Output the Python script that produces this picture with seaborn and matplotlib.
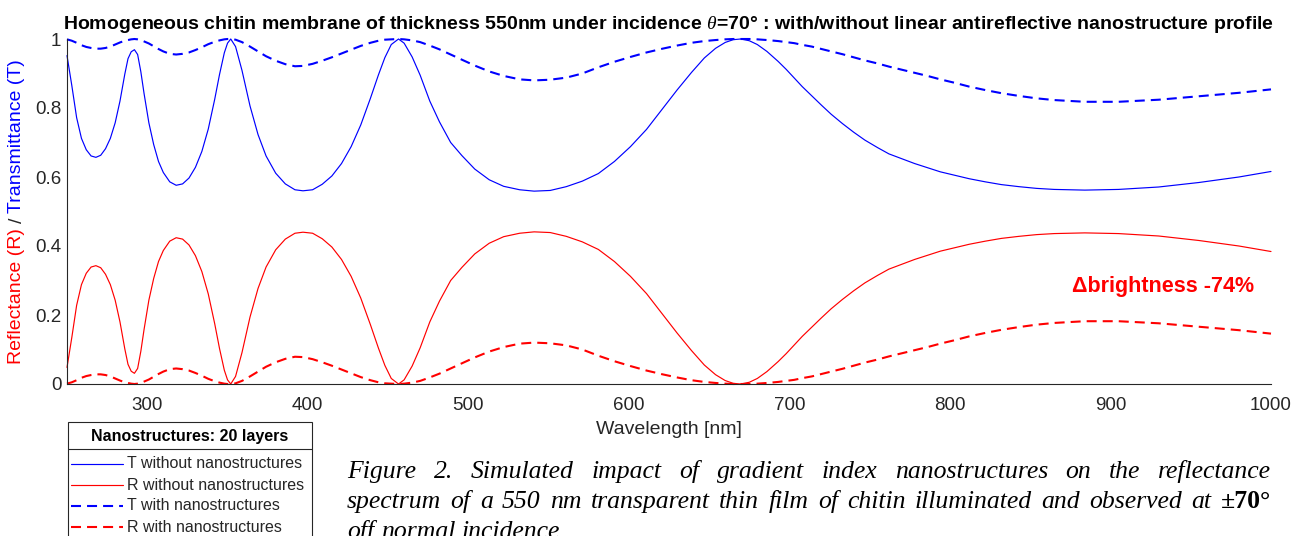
import matplotlib
matplotlib.use("Agg")
import matplotlib.pyplot as plt
from matplotlib.transforms import IdentityTransform
from matplotlib.lines import Line2D
from matplotlib.patches import Rectangle
import numpy as np
import pandas as pd
import seaborn as sns

# ---------------------------------------------------------------- data
wavelength = [
    250, 253, 256, 259, 262, 265, 268, 271, 274, 277, 280, 283, 286, 288, 290, 292,
    294, 296, 298, 301, 304, 307, 310, 314, 318, 322, 326, 330, 334, 338, 342, 345, 348, 350, 352,
    355, 359, 364, 369, 374, 380, 386, 392, 397, 403, 409, 415, 421, 427, 433, 439, 444, 448, 452, 456.5,
    460, 465, 470, 476, 482, 489, 496, 504, 513, 522, 532, 541, 551, 561, 571, 581, 591, 601, 611, 621,
    630, 639, 647, 654, 660, 665, 669.6,
    675, 680, 686, 693, 698, 703, 708, 714, 720, 726, 733, 740, 747, 755, 762, 770, 778, 786, 794, 803,
    812, 822, 832, 843, 854, 865, 884, 905, 930, 955, 980, 1000,
]

r_without = [
    0.048, 0.135, 0.228, 0.288, 0.321, 0.339, 0.343, 0.337, 0.318, 0.288, 0.243, 0.180, 0.102, 0.057, 0.037, 0.031,
    0.045, 0.095, 0.158, 0.243, 0.306, 0.355, 0.387, 0.414, 0.424, 0.420, 0.403, 0.372, 0.326, 0.261, 0.175, 0.103, 0.040, 0.012, 0.000,
    0.022, 0.091, 0.194, 0.277, 0.339, 0.389, 0.420, 0.437, 0.440, 0.437, 0.421, 0.397, 0.361, 0.312, 0.249, 0.172, 0.104, 0.054, 0.016, 0.000,
    0.012, 0.052, 0.105, 0.180, 0.240, 0.300, 0.338, 0.377, 0.408, 0.427, 0.437, 0.441, 0.439, 0.428, 0.412, 0.390, 0.355, 0.312, 0.262, 0.202,
    0.148, 0.097, 0.055, 0.027, 0.010, 0.002, 0.000,
    0.005, 0.016, 0.036, 0.065, 0.088, 0.113, 0.138, 0.165, 0.192, 0.218, 0.245, 0.270, 0.293, 0.315, 0.333, 0.347, 0.361, 0.373, 0.385, 0.395,
    0.405, 0.414, 0.422, 0.428, 0.433, 0.436, 0.438, 0.436, 0.429, 0.416, 0.400, 0.384,
]

t_without = [
    0.952, 0.865, 0.772, 0.712, 0.679, 0.661, 0.657, 0.663, 0.682, 0.712, 0.757, 0.820, 0.898, 0.943, 0.963, 0.969,
    0.955, 0.905, 0.842, 0.757, 0.694, 0.645, 0.613, 0.586, 0.576, 0.580, 0.597, 0.628, 0.674, 0.739, 0.825, 0.897, 0.960, 0.988, 1.000,
    0.978, 0.909, 0.806, 0.723, 0.661, 0.611, 0.580, 0.563, 0.560, 0.563, 0.579, 0.603, 0.639, 0.688, 0.751, 0.828, 0.896, 0.946, 0.984, 1.000,
    0.988, 0.948, 0.895, 0.820, 0.760, 0.700, 0.662, 0.623, 0.592, 0.573, 0.563, 0.559, 0.561, 0.572, 0.588, 0.610, 0.645, 0.688, 0.738, 0.798,
    0.852, 0.903, 0.945, 0.973, 0.990, 0.998, 1.000,
    0.995, 0.984, 0.964, 0.935, 0.912, 0.887, 0.862, 0.835, 0.808, 0.782, 0.755, 0.730, 0.707, 0.685, 0.667, 0.653, 0.639, 0.627, 0.615, 0.605,
    0.595, 0.586, 0.578, 0.572, 0.567, 0.564, 0.562, 0.564, 0.571, 0.584, 0.600, 0.616,
]

r_with = [
    0.001, 0.005, 0.011, 0.018, 0.023, 0.026, 0.028, 0.028, 0.026, 0.022, 0.016, 0.010, 0.005, 0.003, 0.001, 0.000,
    0.001, 0.003, 0.007, 0.013, 0.021, 0.029, 0.036, 0.043, 0.045, 0.043, 0.039, 0.032, 0.024, 0.015, 0.008, 0.004, 0.001, 0.000, 0.000,
    0.002, 0.009, 0.022, 0.036, 0.050, 0.063, 0.073, 0.079, 0.078, 0.072, 0.063, 0.053, 0.042, 0.031, 0.020, 0.011, 0.005, 0.002, 0.001, 0.000,
    0.001, 0.004, 0.009, 0.019, 0.030, 0.045, 0.060, 0.077, 0.094, 0.107, 0.117, 0.120, 0.118, 0.112, 0.100, 0.082, 0.066, 0.052, 0.039, 0.028,
    0.019, 0.011, 0.006, 0.003, 0.001, 0.000, 0.000,
    0.000, 0.001, 0.003, 0.006, 0.009, 0.012, 0.017, 0.022, 0.029, 0.036, 0.044, 0.053, 0.062, 0.071, 0.080, 0.089, 0.098, 0.107, 0.117, 0.127,
    0.138, 0.148, 0.157, 0.165, 0.172, 0.177, 0.182, 0.182, 0.176, 0.166, 0.156, 0.146,
]

t_with = [
    0.999, 0.995, 0.989, 0.982, 0.977, 0.974, 0.972, 0.972, 0.974, 0.978, 0.984, 0.990, 0.995, 0.997, 0.999, 1.000,
    0.999, 0.997, 0.993, 0.987, 0.979, 0.971, 0.964, 0.957, 0.955, 0.957, 0.961, 0.968, 0.976, 0.985, 0.992, 0.996, 0.999, 1.000, 1.000,
    0.998, 0.991, 0.978, 0.964, 0.950, 0.937, 0.927, 0.921, 0.922, 0.928, 0.937, 0.947, 0.958, 0.969, 0.980, 0.989, 0.995, 0.998, 0.999, 1.000,
    0.999, 0.996, 0.991, 0.981, 0.970, 0.955, 0.940, 0.923, 0.906, 0.893, 0.883, 0.880, 0.882, 0.888, 0.900, 0.918, 0.934, 0.948, 0.961, 0.972,
    0.981, 0.989, 0.994, 0.997, 0.999, 1.000, 1.000,
    1.000, 0.999, 0.997, 0.994, 0.991, 0.988, 0.983, 0.978, 0.971, 0.964, 0.956, 0.947, 0.938, 0.929, 0.920, 0.911, 0.902, 0.893, 0.883, 0.873,
    0.862, 0.852, 0.843, 0.835, 0.828, 0.823, 0.818, 0.818, 0.824, 0.834, 0.844, 0.854,
]

series_labels = [
    "T without nanostructures",
    "R without nanostructures",
    "T with nanostructures",
    "R with nanostructures",
]
x_ticks = [300, 400, 500, 600, 700, 800, 900, 1000]
y_ticks = [0, 0.2, 0.4, 0.6, 0.8, 1]
y_tick_labels = ["0", "0.2", "0.4", "0.6", "0.8", "1"]

title_text = (r"Homogeneous chitin membrane of thickness 550nm under incidence "
              r"$\theta$=70° : with/without linear antireflective nanostructure profile")
legend_title = "Nanostructures: 20 layers"
annotation_text = "\u0394brightness -74%"
caption_lines = [
    "Figure 2. Simulated impact of gradient index nanostructures on the reflectance",
    "spectrum of a 550 nm transparent thin film of chitin illuminated and observed at",
    "off normal incidence",
]
caption_bold_tail = "\u00b170°"

# ---------------------------------------------------------------- style
sns.set_theme(style="white")
plt.rcParams["font.family"] = ["Liberation Sans", "DejaVu Sans"]
plt.rcParams["mathtext.fontset"] = "custom"
plt.rcParams["mathtext.it"] = "Liberation Serif:italic"
plt.rcParams["mathtext.rm"] = "Liberation Sans:bold"

INK = "#262626"
BLUE = "#0000ff"
RED = "#ff0000"

W, H = 1299, 536
fig = plt.figure(figsize=(W / 100, H / 100), dpi=100)
fig.patch.set_facecolor("white")


def fpos(x, y):
    """Pixel position measured from the top-left corner -> figure fraction."""
    return x / W, 1 - y / H


ax_left, ax_right, ax_top, ax_bottom = 67, 1271, 39, 384
ax = fig.add_axes([ax_left / W, 1 - ax_bottom / H, (ax_right - ax_left) / W, (ax_bottom - ax_top) / H])
ax.set_facecolor("white")

# ---------------------------------------------------------------- curves
dash = (0, (4.8, 2.9))
curves = [
    (t_without, BLUE, "-", 0.85),
    (r_without, RED, "-", 0.85),
    (t_with, BLUE, dash, 1.5),
    (r_with, RED, dash, 1.5),
]
for (vals, color, ls, lw), label in zip(curves, series_labels):
    frame = pd.DataFrame({"wavelength": wavelength, "value": vals})
    sns.lineplot(data=frame, x="wavelength", y="value", ax=ax, color=color,
                 linestyle=ls, linewidth=lw, estimator=None, sort=False,
                 clip_on=False, label=label, legend=False)

ax.set_xlim(250, 1000)
ax.set_ylim(0, 1)
ax.set_xticks(x_ticks)
ax.set_yticks(y_ticks)
ax.set_yticklabels(y_tick_labels)
ax.set_xlabel("")
ax.set_ylabel("")
sns.despine(ax=ax)
for side in ("left", "bottom"):
    ax.spines[side].set_color(INK)
    ax.spines[side].set_linewidth(0.8)
ax.tick_params(direction="in", length=8, width=0.75, colors=INK, labelsize=13.5)
ax.tick_params(axis="x", pad=9)
ax.tick_params(axis="y", pad=4)
ax.grid(False)

ax.text(932.5, 0.284, annotation_text, color=RED, fontsize=15.5,
        fontweight="bold", ha="center", va="center")

# axis labels and title
fig.text(*fpos(669, 430), "Wavelength [nm]", fontsize=14, color=INK, ha="center", va="center")
fig.text(*fpos(669, 29), title_text, fontsize=14, fontweight="bold", color="black",
         ha="center", va="baseline")

fig.canvas.draw()
renderer = fig.canvas.get_renderer()
ident = IdentityTransform()

# multi-coloured vertical y label, stacked bottom to top
pieces = [("Reflectance (R)", RED), ("/", INK), ("Transmittance (T)", BLUE)]
ylab = [fig.text(0, 0, s, color=c, fontsize=14, rotation=90, ha="center", va="bottom",
                 transform=ident) for s, c in pieces]
heights = [t.get_window_extent(renderer).height for t in ylab]
gap = 5.0
total = sum(heights) + gap * (len(heights) - 1)
y_cursor = (H - 211.5) - total / 2
for t, h in zip(ylab, heights):
    t.set_position((17, y_cursor))
    y_cursor += h + gap

# ---------------------------------------------------------------- legend box
lg_left, lg_right, lg_top, lg_sep = 67.5, 311.5, 421.5, 449
fig.add_artist(Rectangle(fpos(lg_left, 560), (lg_right - lg_left) / W, (560 - lg_top) / H,
                         transform=fig.transFigure, facecolor="white", edgecolor=INK,
                         linewidth=0.8, clip_on=False))
fig.add_artist(Line2D([lg_left / W, lg_right / W], [1 - lg_sep / H] * 2,
                      transform=fig.transFigure, color=INK, linewidth=0.8))
fig.text(*fpos((lg_left + lg_right) / 2, 436), legend_title, fontsize=11.5,
         fontweight="bold", color="black", ha="center", va="center")
entry_rows = [464, 485, 506, 527]
for (vals, color, ls, lw), label, yrow in zip(curves, series_labels, entry_rows):
    fig.add_artist(Line2D([71 / W, 123 / W], [1 - yrow / H] * 2, transform=fig.transFigure,
                          color=color, linestyle=ls, linewidth=lw))
    fig.text(*fpos(127, yrow), label, fontsize=11.5, color=INK, ha="left", va="center")

# ---------------------------------------------------------------- justified caption
cap_left, cap_right = 347, 1271
cap_base = [478, 508, 538]
cap_size = 18.5


def caption_words(line, bold_tail=None):
    words = [(w, "italic", "normal") for w in line.split()]
    if bold_tail:
        words.append((bold_tail, "normal", "bold"))
    return words


def draw_line(words, y_img, justify):
    arts = [fig.text(0, H - y_img, w, fontsize=cap_size, family="Liberation Serif",
                     style=st, weight=wt, color="black", ha="left", va="baseline",
                     transform=ident) for w, st, wt in words]
    widths = [a.get_window_extent(renderer).width for a in arts]
    probe = fig.text(0, 0, "a a", fontsize=cap_size, family="Liberation Serif", style="italic")
    sp = probe.get_window_extent(renderer).width
    probe.set_text("aa")
    sp -= probe.get_window_extent(renderer).width
    probe.remove()
    if justify and len(arts) > 1:
        gap_w = (cap_right - cap_left - sum(widths)) / (len(arts) - 1)
    else:
        gap_w = sp
    x = cap_left
    for a, w in zip(arts, widths):
        a.set_position((x, H - y_img))
        x += w + gap_w


draw_line(caption_words(caption_lines[0]), cap_base[0], True)
draw_line(caption_words(caption_lines[1], caption_bold_tail), cap_base[1], True)
draw_line(caption_words(caption_lines[2]), cap_base[2], False)

fig.savefig("out.png", dpi=100, facecolor="white")
